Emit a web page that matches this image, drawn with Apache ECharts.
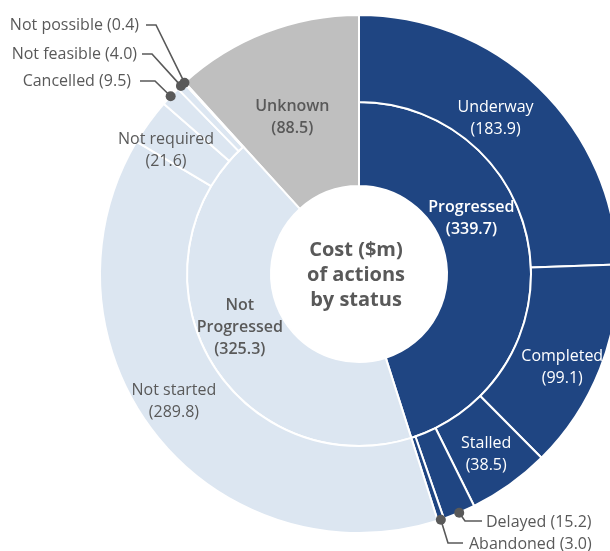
<!DOCTYPE html>
<html><head><meta charset="utf-8">
<script src="https://cdn.jsdelivr.net/npm/echarts@6/dist/echarts.min.js"></script>
<style>html,body{margin:0;padding:0;background:#fff}#c{width:610px;height:551px}</style>
</head><body><div id="c"></div>
<script>
// ---- data ----
const innerNames = ['Progressed', 'Not Progressed'];
const innerValues = [339.7, 325.3];
const unknownName = 'Unknown';
const unknownValue = 88.5;
const outerNames = ['Underway', 'Completed', 'Stalled', 'Delayed', 'Abandoned',
                    'Not started', 'Not required', 'Cancelled', 'Not feasible', 'Not possible'];
const outerValues = [183.9, 99.1, 38.5, 15.2, 3.0, 289.8, 21.6, 9.5, 4.0, 0.4];
const outerParent = [0, 0, 0, 0, 0, 1, 1, 1, 1, 1];
const outsideLabelled = ['Delayed', 'Abandoned', 'Cancelled', 'Not feasible', 'Not possible'];
const centerTitle = ['Cost ($m)', 'of actions', 'by status'];

// ---- style ----
const DARK = '#1f4582', LIGHT = '#dce6f1', GREY = '#bfbfbf', TXT = '#595959';
const CX = 359, CY = 274, R0 = 88, R1 = 172, R2 = 259;
const FONT = '"Open Sans", "Noto Sans", sans-serif';
const FS = 16;
const parentColor = [DARK, LIGHT];
const parentText = ['#ffffff', TXT];

// label fine-tuning (pixel shifts, layout only)
const insideShift = {
  'Underway': [-15, 2], 'Completed': [0, 13], 'Stalled': [0, 3],
  'Not started': [-14, -8], 'Not required': [-16, 5],
  'Progressed': [-19, -35], 'Not Progressed': [-4, -13], 'Unknown': [-3, 8]
};
const outsidePos = {
  'Not possible': { x: 139, y: 25, align: 'right', elbow: [156, 25], end: [146, 25] },
  'Not feasible': { x: 137, y: 54, align: 'right', elbow: [152, 54], end: [142, 54] },
  'Cancelled':    { x: 131, y: 81, align: 'right', elbow: [155, 81], end: [140, 81] },
  'Delayed':      { x: 486, y: 522, align: 'left', elbow: [465, 521], end: [482, 521] },
  'Abandoned':    { x: 469, y: 544, align: 'left', elbow: [448, 543], end: [463, 543] }
};

const total = innerValues.reduce((a, b) => a + b, 0) + unknownValue;
const fmt2 = p => p.name + '\n(' + p.value.toFixed(1) + ')';
const fmtInner = p => p.name.replace(/^Not /, 'Not\n') + '\n(' + p.value.toFixed(1) + ')';
const fmt1 = p => p.name + ' (' + p.value.toFixed(1) + ')';
const hiddenItem = v => ({ value: v, name: '', itemStyle: { color: 'transparent', borderWidth: 0 },
                           label: { show: false }, labelLine: { show: false } });

function makeLayout(names) {
  return function (p) {
    const name = names[p.dataIndex];
    if (outsidePos[name]) {
      const o = outsidePos[name];
      const start = p.labelLinePoints ? p.labelLinePoints[0] : o.elbow;
      return { x: o.x, y: o.y, align: o.align, verticalAlign: 'middle',
               labelLinePoints: [start, o.elbow, o.end] };
    }
    const s = insideShift[name];
    return s ? { dx: s[0], dy: s[1] } : {};
  };
}

// inner ring data
const innerData = innerNames.map((n, i) => ({
  name: n, value: innerValues[i],
  itemStyle: { color: parentColor[i] },
  label: { color: parentText[i] }
}));
innerData.push(hiddenItem(unknownValue));

// outer ring data
const outerData = outerNames.map((n, i) => {
  const out = outsideLabelled.indexOf(n) >= 0;
  return {
    name: n, value: outerValues[i],
    itemStyle: { color: parentColor[outerParent[i]] },
    label: out ? { position: 'outside', formatter: fmt1, color: TXT, show: true }
               : { color: parentText[outerParent[i]] },
    labelLine: out ? { show: true, lineStyle: { color: TXT, width: 1.6 } } : { show: false }
  };
});
outerData.push(hiddenItem(unknownValue));

// unknown ring data (spans both rings)
const unknownData = [hiddenItem(innerValues.reduce((a, b) => a + b, 0)),
  { name: unknownName, value: unknownValue, itemStyle: { color: GREY }, label: { color: TXT } }];

// dots at the ends of the leader lines, placed with a polar scale
let cum = 0;
const dotData = [];
outerNames.forEach((n, i) => {
  if (outsideLabelled.indexOf(n) >= 0) dotData.push([R2, cum + outerValues[i] / 2]);
  cum += outerValues[i];
});

const chart = echarts.init(document.getElementById('c'), null, { renderer: 'canvas' });
chart.setOption({
  backgroundColor: '#ffffff',
  animation: false,
  textStyle: { fontFamily: FONT },
  polar: { center: [CX, CY], radius: [0, R2] },
  angleAxis: { type: 'value', min: 0, max: total, startAngle: 90, clockwise: true, show: false,
               axisLine: { show: false }, axisTick: { show: false }, axisLabel: { show: false }, splitLine: { show: false } },
  radiusAxis: { type: 'value', min: 0, max: R2, show: false,
                axisLine: { show: false }, axisTick: { show: false }, axisLabel: { show: false }, splitLine: { show: false } },
  graphic: [{
    type: 'text', left: CX - 73, top: CY - 36, z: 100,
    style: { text: centerTitle.join('\n'), x: 0, y: 0, width: 140, align: 'center',
             fill: TXT, font: 'bold 20px ' + FONT, lineHeight: 25, textAlign: 'center' }
  }],
  series: [
    {
      type: 'pie', name: 'unknown', silent: true, center: [CX, CY], radius: [R0, R2],
      startAngle: 90, clockwise: true, avoidLabelOverlap: false, z: 1,
      itemStyle: { borderColor: '#fff', borderWidth: 2 },
      label: { show: true, position: 'inside', formatter: fmt2, fontSize: FS, fontWeight: 600,
               lineHeight: 22, fontFamily: FONT },
      labelLine: { show: false },
      labelLayout: makeLayout(['', unknownName]),
      data: unknownData
    },
    {
      type: 'pie', name: 'status', silent: true, center: [CX, CY], radius: [R0, R1],
      startAngle: 90, clockwise: true, avoidLabelOverlap: false, z: 2,
      itemStyle: { borderColor: '#fff', borderWidth: 2 },
      label: { show: true, position: 'inside', formatter: fmtInner, fontSize: FS, fontWeight: 600,
               lineHeight: 22, fontFamily: FONT },
      labelLine: { show: false },
      labelLayout: makeLayout(innerNames.concat([''])),
      data: innerData
    },
    {
      type: 'pie', name: 'detail', silent: true, center: [CX, CY], radius: [R1, R2],
      startAngle: 90, clockwise: true, avoidLabelOverlap: false, z: 3,
      itemStyle: { borderColor: '#fff', borderWidth: 2 },
      label: { show: true, position: 'inside', formatter: fmt2, fontSize: FS,
               lineHeight: 22, fontFamily: FONT },
      labelLine: { show: false, length: 10, length2: 10 },
      labelLayout: makeLayout(outerNames.concat([''])),
      data: outerData
    },
    {
      type: 'scatter', coordinateSystem: 'polar', silent: true, z: 10,
      symbol: 'circle', symbolSize: 10, itemStyle: { color: TXT, opacity: 1 },
      data: dotData
    }
  ]
});
</script></body></html>
